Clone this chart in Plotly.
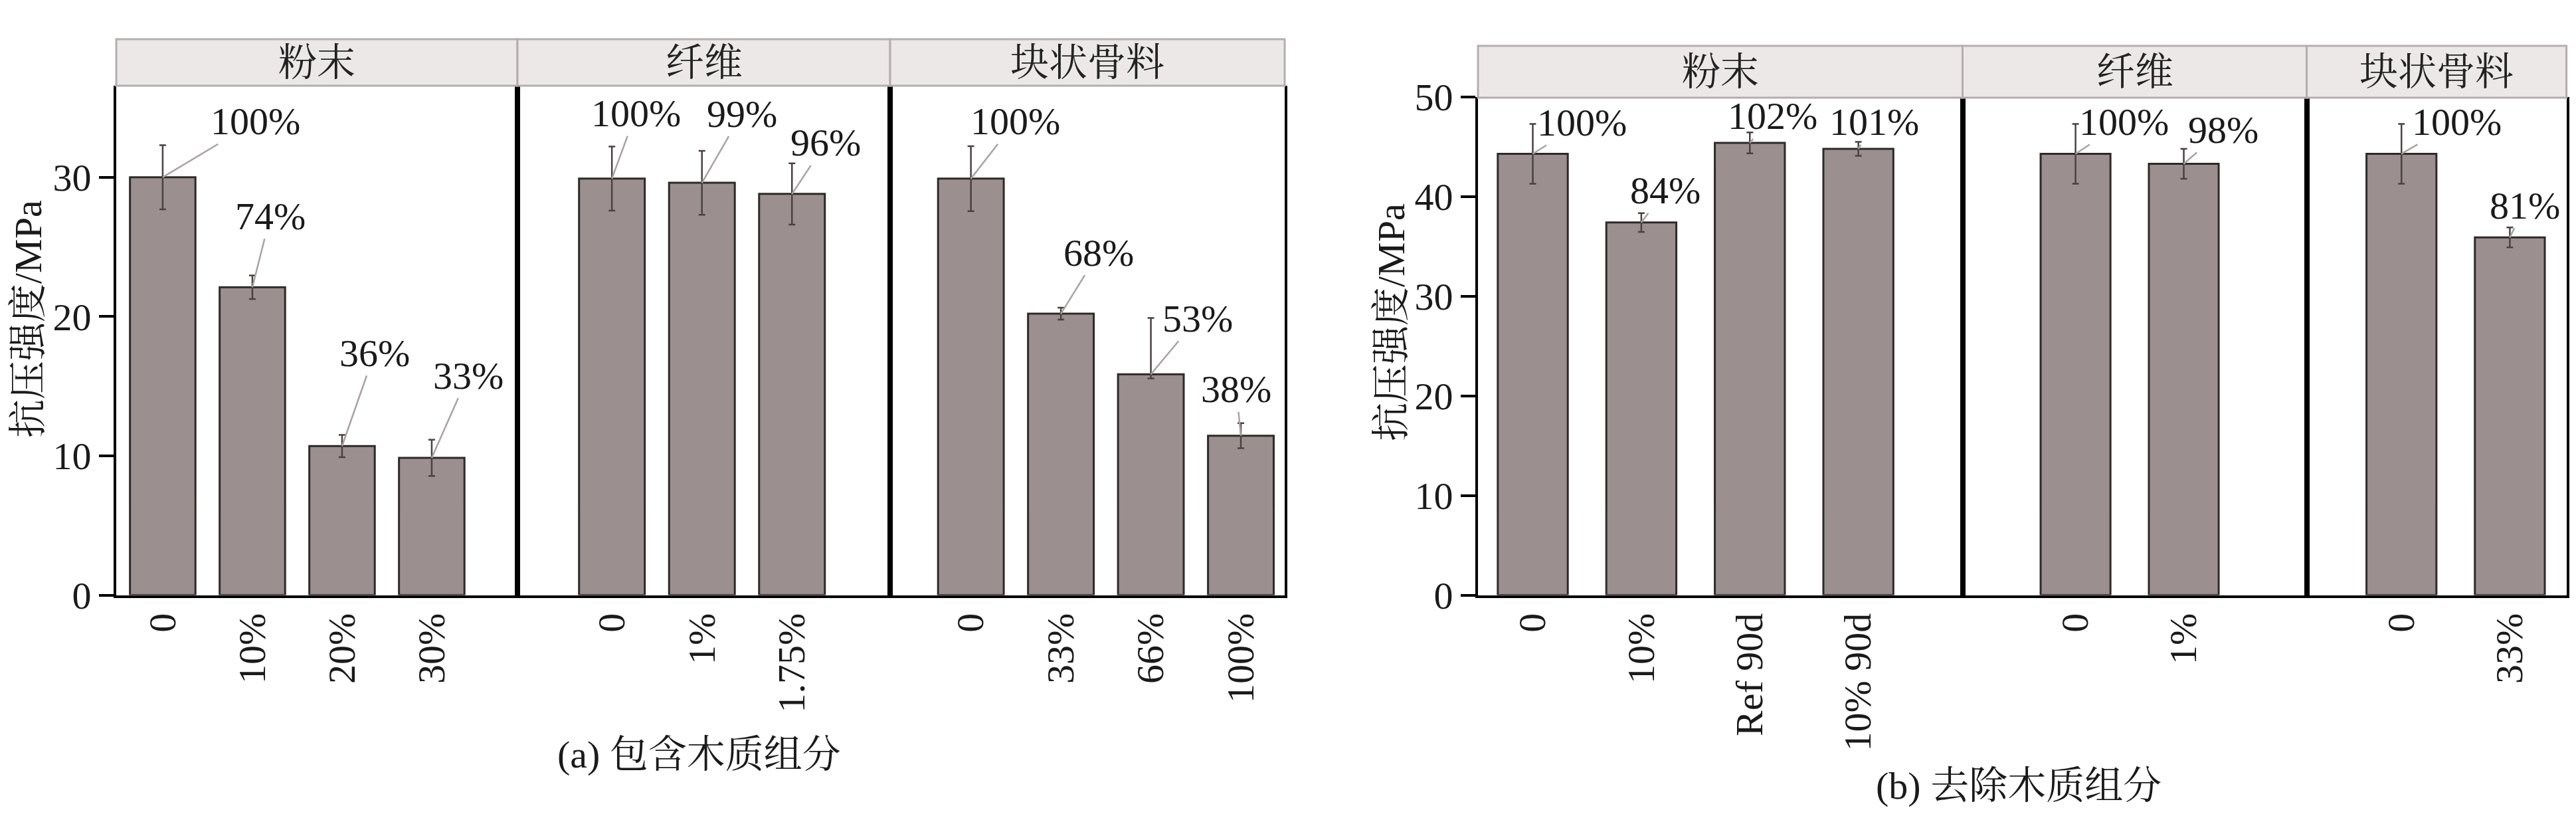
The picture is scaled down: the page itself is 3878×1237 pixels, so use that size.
import plotly.graph_objects as go

# ---------------- data ----------------
a_powder_cats = ["0", "10%", "20%", "30%"]
a_powder_vals = [30.0, 22.1, 10.7, 9.85]
a_powder_err = [2.3, 0.85, 0.8, 1.3]
a_powder_lbl = ["100%", "74%", "36%", "33%"]

a_fiber_cats = ["0", "1%", "1.75%"]
a_fiber_vals = [29.9, 29.6, 28.8]
a_fiber_err = [2.3, 2.3, 2.2]
a_fiber_lbl = ["100%", "99%", "96%"]

a_agg_cats = ["0", "33%", "66%", "100%"]
a_agg_vals = [29.9, 20.2, 15.85, 11.44]
a_agg_err_plus = [2.33, 0.43, 4.05, 0.9]
a_agg_err_minus = [2.33, 0.43, 0.3, 0.9]
a_agg_lbl = ["100%", "68%", "53%", "38%"]

b_powder_cats = ["0", "10%", "Ref 90d", "10% 90d"]
b_powder_vals = [44.3, 37.4, 45.4, 44.8]
b_powder_err = [3.0, 0.95, 1.05, 0.7]
b_powder_lbl = ["100%", "84%", "102%", "101%"]

b_fiber_cats = ["0", "1%"]
b_fiber_vals = [44.3, 43.3]
b_fiber_err = [3.0, 1.5]
b_fiber_lbl = ["100%", "98%"]

b_agg_cats = ["0", "33%"]
b_agg_vals = [44.3, 35.9]
b_agg_err = [3.0, 1.0]
b_agg_lbl = ["100%", "81%"]

facet_names = ["粉末", "纤维", "块状骨料"]
y_title = "抗压强度/MPa"
cap_a = "(a) 包含木质组分"
cap_b = "(b) 去除木质组分"

# ---------------- style / layout ----------------
W, H = 3878, 1237
FONT = "Liberation Serif, Times New Roman, Noto Serif CJK SC, Noto Sans CJK SC, serif"
FS = 58
BAR_COLOR = "#9b908f"
BAR_LINE = "#2e2a2a"
ERR_COLOR = "#4a4242"
LEAD_COLOR = "#aaa2a2"
STRIP_FILL = "#ece8e8"
STRIP_LINE = "#b5aeae"
TXT = "#1a1a1a"

def px(x):
    return x / W

def py(y):
    return 1 - y / H

facets = [
    # (cats, vals, err_plus, err_minus, labels, x-domain px, x-range, bar width, y-top px, y-max, label offsets)
    (a_powder_cats, a_powder_vals, a_powder_err, a_powder_err, a_powder_lbl,
     (175, 779), (-0.518, 3.956), 0.73, 129, 36.57,
     [(140, -84), (27, -107), (49, -140), (55, -124)]),
    (a_fiber_cats, a_fiber_vals, a_fiber_err, a_fiber_err, a_fiber_lbl,
     (779, 1340), (-1.049, 3.09), 0.73, 129, 36.57,
     [(36, -98), (60, -104), (51, -77)]),
    (a_agg_cats, a_agg_vals, a_agg_err_plus, a_agg_err_minus, a_agg_lbl,
     (1340, 1934), (-0.898, 3.487), 0.73, 129, 36.57,
     [(67, -86), (57, -92), (70, -84), (-7, -70)]),
    (b_powder_cats, b_powder_vals, b_powder_err, b_powder_err, b_powder_lbl,
     (2225, 2954.5), (-0.505, 3.96), 0.645, 146, 50.0,
     [(74, -47), (36, -48), (34, -40), (24, -40)]),
    (b_fiber_cats, b_fiber_vals, b_fiber_err, b_fiber_err, b_fiber_lbl,
     (2954.5, 3472.6), (-1.044, 2.136), 0.645, 146, 50.0,
     [(73, -48), (59, -51)]),
    (b_agg_cats, b_agg_vals, b_agg_err, b_agg_err, b_agg_lbl,
     (3472.6, 3863.6), (-0.874, 1.522), 0.645, 146, 50.0,
     [(83, -48), (23, -48)]),
]

strip_rows = [(59, 129), (59, 129), (59, 129), (69, 147), (69, 147), (69, 147)]
BOTTOM = 895.5

fig = go.Figure()
layout = dict(
    template="none",
    width=W, height=H,
    margin=dict(l=0, r=0, t=0, b=0, pad=0, autoexpand=False),
    paper_bgcolor="white", plot_bgcolor="white",
    showlegend=False,
    font=dict(family=FONT, size=FS, color=TXT),
    bargap=0,
)
annotations = []
shapes = []

for i, (cats, vals, ep, em, lbls, xd, xr, bw, ytop, ymax, offs) in enumerate(facets):
    n = i + 1
    xa = "x" if n == 1 else f"x{n}"
    ya = "y" if n == 1 else f"y{n}"
    xkey = "xaxis" if n == 1 else f"xaxis{n}"
    ykey = "yaxis" if n == 1 else f"yaxis{n}"
    first = i in (0, 3)

    fig.add_trace(go.Bar(
        x=cats, y=vals, width=bw, xaxis=xa, yaxis=ya,
        marker=dict(color=BAR_COLOR, line=dict(color=BAR_LINE, width=3)),
        error_y=dict(type="data", array=ep, arrayminus=em, symmetric=False,
                     color=ERR_COLOR, thickness=2.5, width=5),
        hoverinfo="skip",
    ))

    layout[xkey] = dict(
        domain=[px(xd[0]), px(xd[1])], anchor=ya, type="category",
        range=list(xr), showline=True, linecolor="black", linewidth=4,
        showgrid=False, zeroline=False, ticks="", tickangle=-90,
        automargin=False,
        tickfont=dict(family=FONT, size=FS, color=TXT),
        fixedrange=True,
    )
    layout[ykey] = dict(
        domain=[py(BOTTOM), py(ytop)], anchor=xa, range=[0, ymax],
        showline=True, mirror=True, linecolor="black", linewidth=4,
        showgrid=False, zeroline=False, automargin=False,
        ticks="outside" if first else "", ticklen=22, tickwidth=4, tickcolor="black",
        dtick=10, tick0=0, showticklabels=first,
        tickfont=dict(family=FONT, size=FS, color=TXT),
        fixedrange=True,
    )

    # value labels with leader lines
    for c, v, t, (ax, ay) in zip(cats, vals, lbls, offs):
        annotations.append(dict(
            x=c, y=v, xref=xa, yref=ya, text=t, showarrow=True,
            ax=ax, ay=ay, arrowhead=0, arrowwidth=2.5, arrowcolor=LEAD_COLOR,
            standoff=0, startstandoff=0,
            font=dict(family=FONT, size=FS, color=TXT),
        ))

    # strip
    s0, s1 = strip_rows[i]
    shapes.append(dict(type="rect", xref="paper", yref="paper",
                       x0=px(xd[0]), x1=px(xd[1]), y0=py(s1), y1=py(s0),
                       fillcolor=STRIP_FILL, line=dict(color=STRIP_LINE, width=3),
                       layer="above"))
    annotations.append(dict(
        x=px((xd[0] + xd[1]) / 2), y=py((s0 + s1) / 2), xref="paper", yref="paper",
        text=facet_names[i % 3], showarrow=False, xanchor="center", yanchor="middle",
        font=dict(family=FONT, size=FS, color="#222222"),
    ))

# y-axis titles
annotations.append(dict(x=px(43), y=py(480), xref="paper", yref="paper", text=y_title,
                        textangle=-90, showarrow=False, xanchor="center", yanchor="middle",
                        font=dict(family=FONT, size=FS, color=TXT)))
annotations.append(dict(x=px(2094), y=py(485), xref="paper", yref="paper", text=y_title,
                        textangle=-90, showarrow=False, xanchor="center", yanchor="middle",
                        font=dict(family=FONT, size=FS, color=TXT)))
# captions
annotations.append(dict(x=px(1052), y=py(1135), xref="paper", yref="paper", text=cap_a,
                        showarrow=False, xanchor="center", yanchor="middle",
                        font=dict(family=FONT, size=FS, color=TXT)))
annotations.append(dict(x=px(3039), y=py(1182), xref="paper", yref="paper", text=cap_b,
                        showarrow=False, xanchor="center", yanchor="middle",
                        font=dict(family=FONT, size=FS, color=TXT)))

layout["annotations"] = annotations
layout["shapes"] = shapes
fig.update_layout(**layout)
fig.write_html(
    "out.html",
    config={"displayModeBar": False, "staticPlot": True},
    post_script="document.body.style.margin='0';document.body.style.overflow='hidden';",
)
